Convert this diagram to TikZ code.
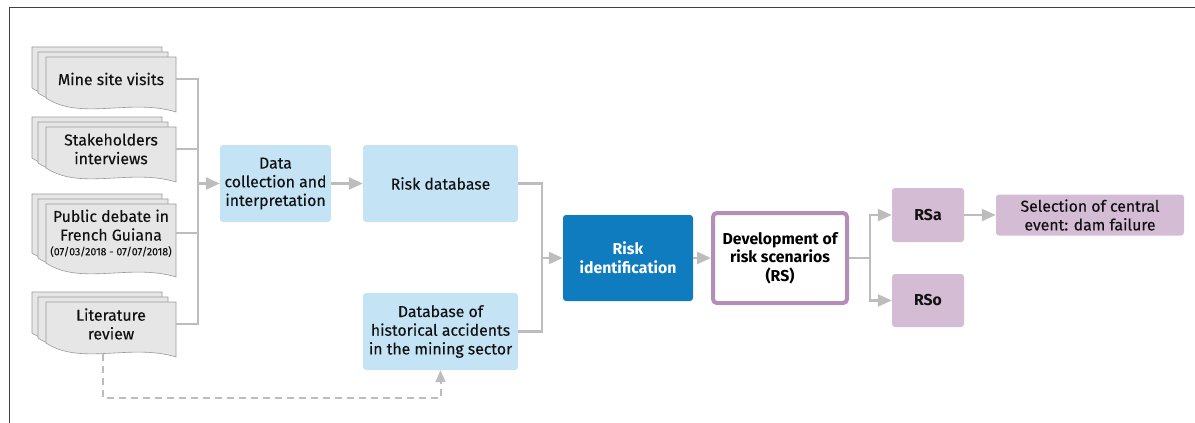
\documentclass[tikz,border=0pt]{standalone}
\usepackage{fontspec}
\setmainfont{Fira Sans}[UprightFeatures={FakeBold=0.2}]
\usetikzlibrary{arrows.meta}

\definecolor{lgray}{HTML}{BDBDBD}
\definecolor{sheetgray}{HTML}{E6E6E6}
\definecolor{sheetline}{HTML}{9A9A9A}
\definecolor{lblue}{HTML}{C4E4F6}
\definecolor{dblue}{HTML}{0F7CBF}
\definecolor{mauve}{HTML}{D5BCD5}
\definecolor{purpleline}{HTML}{B38EB6}
\definecolor{txt}{HTML}{111111}

\newcommand{\boxfont}{\fontsize{15.8}{18.7}\selectfont}

\tikzset{
  line/.style={draw=lgray, line width=2.5pt},
  arr/.style={line, -{Triangle[length=14pt,width=12pt]}},
  dasharr/.style={draw=lgray, line width=2pt, dash pattern=on 7pt off 5pt,
    -{Triangle[length=12pt,width=10pt]}},
  sheet/.style={draw=sheetline, fill=sheetgray, line width=0.6pt},
  doctext/.style={text=txt, align=center, minimum width=130pt, inner sep=0pt},
  lbox/.style={fill=lblue, text=txt, rounded corners=3pt, align=center, inner sep=0pt},
  mbox/.style={fill=mauve, text=txt, rounded corners=3pt, align=center, inner sep=0pt},
  frame/.style={draw=black!75, line width=1pt}
}

% stack of three sheets: name, left x, top y, height, text
\newcommand{\docstack}[5]{%
  \foreach \dx/\dy in {-14/-10,-8/-5,0/0} {
    \begin{scope}[shift={(#2+\dx,#3+\dy)}]
      \draw[sheet] (0,0) -- (130,0) -- (130,#4)
        .. controls (85,#4-14) and (35,#4+9) .. (0,#4-14) -- cycle;
    \end{scope}
  }
  \node[doctext] (#1) at (#2+65,#3+0.4*#4) {#5};
}

\begin{document}
\begin{tikzpicture}[x=1pt, y=-1pt, font=\boxfont]
  \useasboundingbox (0,0) rectangle (1195,423);
  % Frame
  \draw[frame] (9,423) -- (9,7) -- (1195,7);

  % Sources
  \docstack{visits}{46}{57}{55}{Mine site visits}
  \docstack{interviews}{46}{127}{55}{Stakeholders\\interviews}
  \docstack{debate}{46}{204}{73}{Public debate in\\French Guiana\\[-4pt]{\fontsize{10.6}{12}\selectfont (07/03/2018 - 07/07/2018)}}
  \docstack{review}{46}{302}{55}{Literature\\review}

  % Boxes
  \node[lbox, minimum width=111pt, minimum height=77pt] (data) at (275.5,183.5) {Data\\collection and\\interpretation};
  \node[lbox, minimum width=155pt, minimum height=77pt] (riskdb) at (440.5,183.5) {Risk database};
  \node[lbox, minimum width=155pt, minimum height=77pt] (hist) at (440.5,331.5) {Database of\\historical accidents\\in the mining sector};
  \node[fill=dblue, text=white, font=\boxfont\bfseries, rounded corners=3pt, align=center,
    minimum width=130pt, minimum height=86pt] (riskid) at (628,258) {Risk\\identification};
  \node[draw=purpleline, line width=4pt, fill=white, text=black, font=\boxfont\bfseries,
    rounded corners=4pt, align=center, inner sep=0pt,
    minimum width=134pt, minimum height=90pt] (dev) at (780,258) {Development of\\risk scenarios\\(RS)};
  \node[mbox, font=\boxfont\bfseries, minimum width=72pt, minimum height=54pt] (rsa) at (928,215) {RSa};
  \node[mbox, font=\boxfont\bfseries, minimum width=72pt, minimum height=53pt] (rso) at (928,300.5) {RSo};
  \node[mbox, minimum width=188pt, minimum height=41pt] (sel) at (1090,215) {Selection of central\\event: dam failure};

  % Connectors
  \coordinate (bus) at (198,183.5);
  \draw[line] (visits.east) -| (bus) |- (review.east);
  \draw[line] (interviews.east) -- (interviews.east -| bus);
  \draw[line] (debate.east) -- (debate.east -| bus);
  \draw[arr] (bus) -- (data.west);
  \draw[arr] (data) -- (riskdb);

  \coordinate (merge) at (542,258);
  \draw[line] (riskdb.east) -| (merge) |- (hist.east);
  \draw[arr] (merge) -- (riskid.west);
  \draw[arr] (riskid) -- (dev);

  \coordinate (split) at (870,258);
  \draw[line] (dev.east) -- (split);
  \draw[arr] (split) |- (rsa.west);
  \draw[arr] (split) |- (rso.west);
  \draw[arr] (rsa) -- (sel);

  % Dashed link
  \coordinate (litbot) at (103,354);
  \coordinate (dashcorner) at (103,398);
  \draw[dasharr] (litbot) -- (dashcorner) -| (hist.south);
\end{tikzpicture}
\end{document}
